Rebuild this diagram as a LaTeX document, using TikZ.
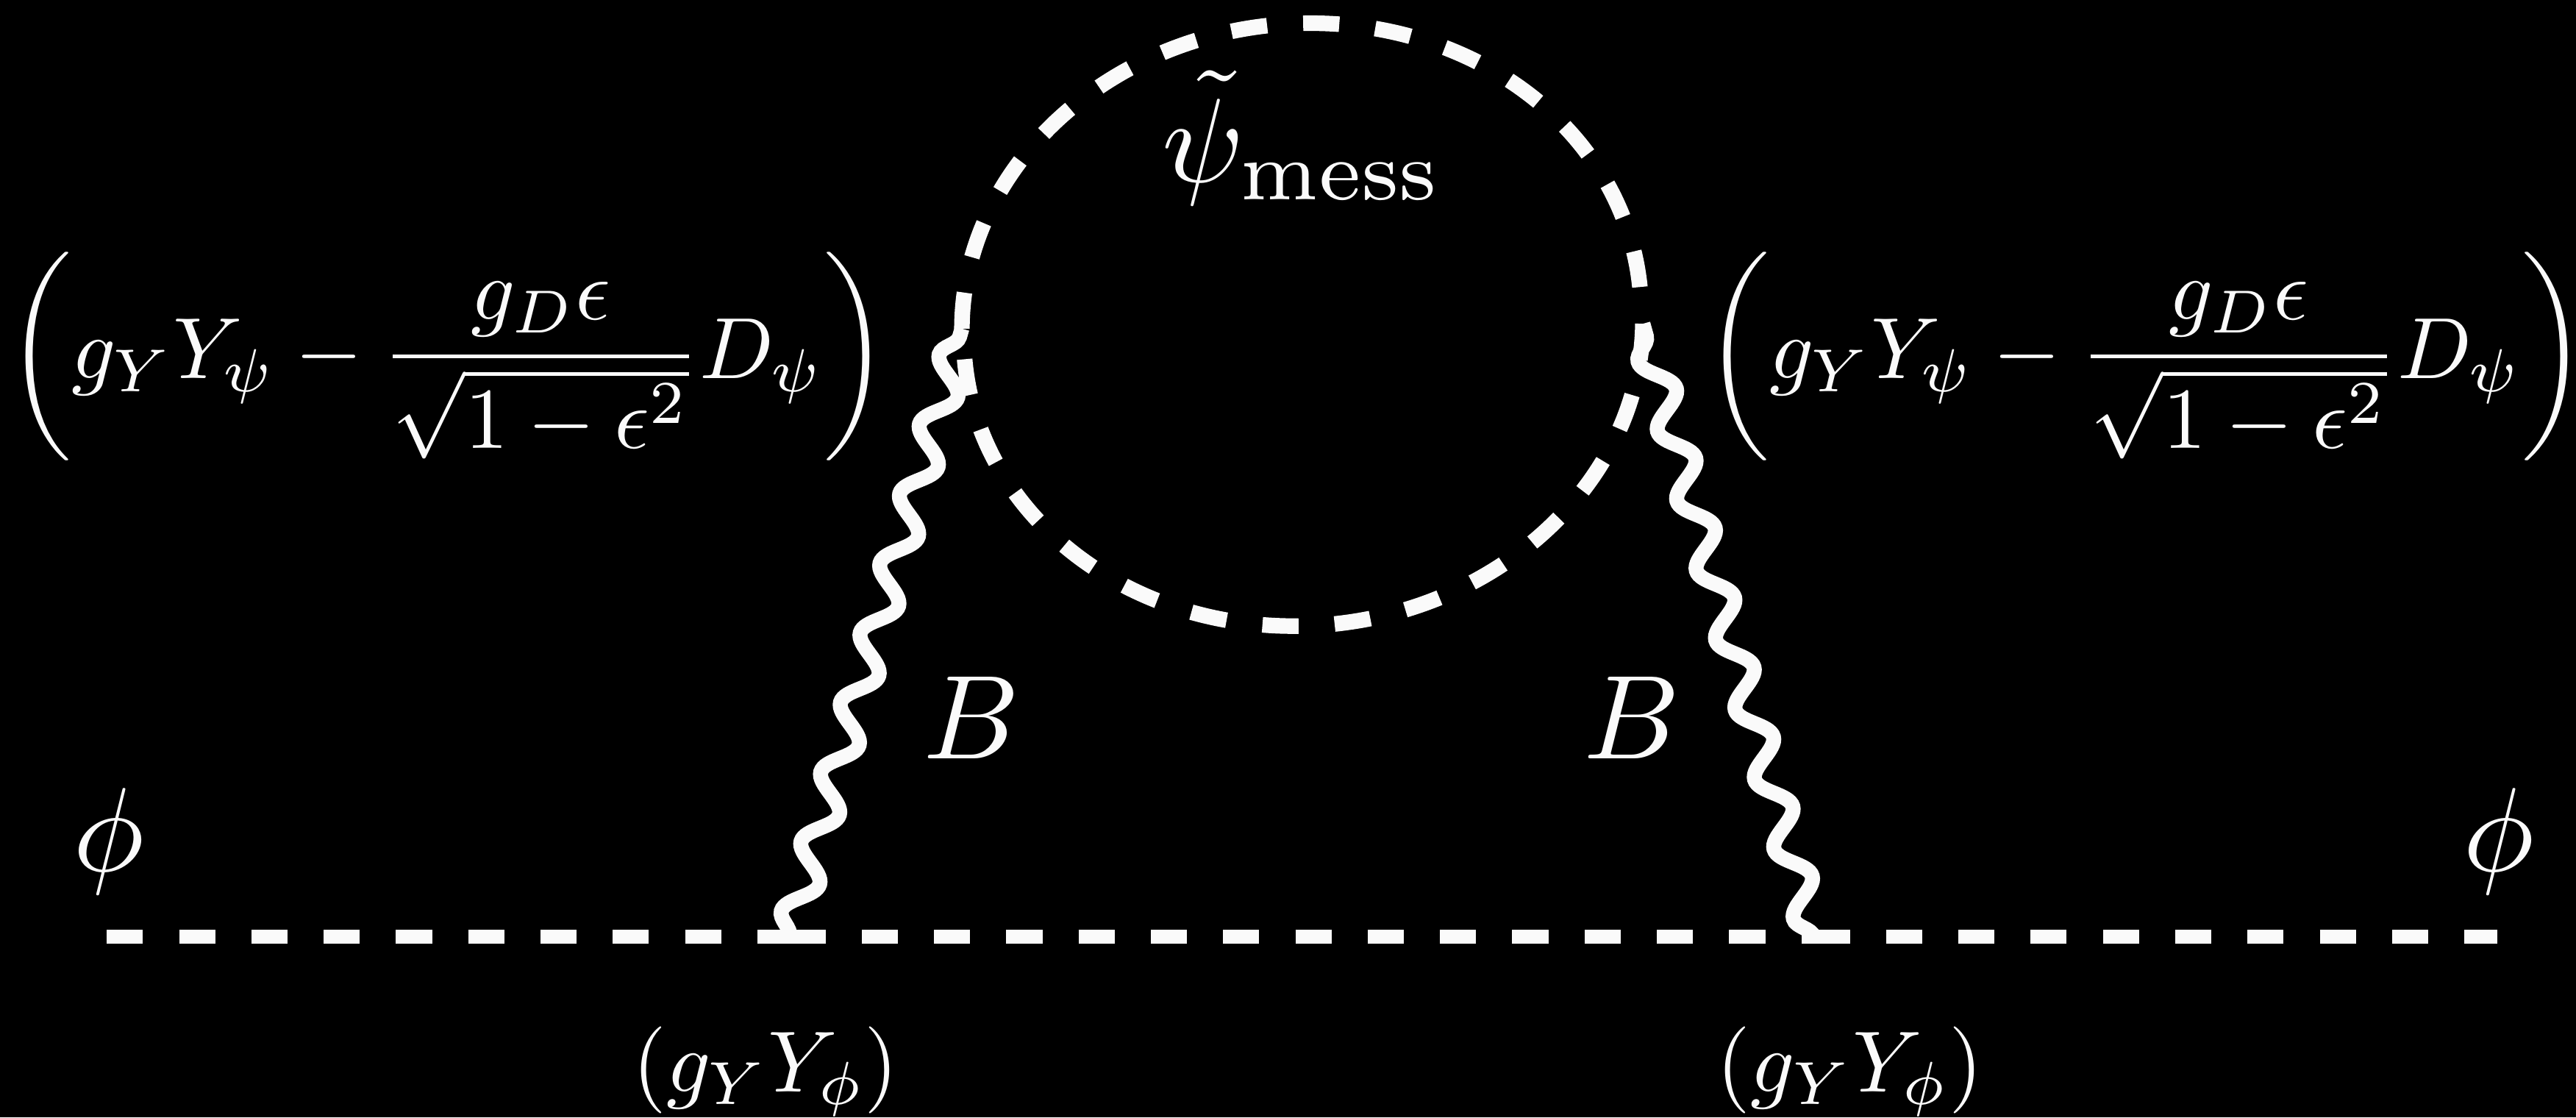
\documentclass[tikz,border=0pt]{standalone}
\usepackage{amsmath,amssymb}
\usepackage{xcolor}
\usepackage{tikz}
\usetikzlibrary{decorations.pathmorphing}
\definecolor{inkc}{HTML}{FAFAFA}
\newcommand{\yukawa}{\left(g_Y Y_\psi-\dfrac{g_D\epsilon}{\sqrt{1-\epsilon^2}}D_\psi\right)}
\newcommand{\vertexphi}{\left(g_Y Y_\phi\right)}
\tikzset{
  lab/.style={text=inkc,scale=2.07,inner sep=0pt},
  smalllab/.style={text=inkc,scale=1.505,inner sep=0pt},
  scalar/.style={inkc,line width=2.45pt,dash pattern=on 0.22cm off 0.22cm},
  loopline/.style={inkc,line width=2.7pt,dash pattern=on 0.22cm off 0.22cm,rotate=6},
  gauge/.style={inkc,line width=2.6pt,decorate,decoration={snake,segment length=0.44cm,amplitude=0.09cm}}
}
\begin{document}
\begin{tikzpicture}
  \fill[black] (0,0) rectangle (15.68,6.80);
  \useasboundingbox (0,0) rectangle (15.68,6.80);
  \coordinate (phiL) at (0.65,1.10);
  \coordinate (vtxL) at (4.805,1.10);
  \coordinate (vtxR) at (11.04,1.10);
  \coordinate (phiR) at (15.20,1.10);
  \coordinate (loopL) at (5.855,4.80);
  \coordinate (loopR) at (10.00,4.83);
  % scalar line
  \draw[scalar] (phiL) -- (vtxL);
  \draw[scalar] (vtxL) -- (vtxR);
  \draw[scalar] (vtxR) -- (phiR);
  % messenger loop
  \draw[loopline] (loopL) arc[start angle=174.6,end angle=-6,x radius=2.07,y radius=1.81];
  \draw[loopline] (loopR) arc[start angle=-6,end angle=-185.4,x radius=2.07,y radius=1.81];
  % gauge bosons
  \draw[gauge] (vtxL) -- (loopL);
  \draw[gauge] (vtxR) -- (loopR);
  \node[smalllab] (yukL) at (2.725,4.63) {$\yukawa$};
  \node[smalllab] (yukR) at (13.06,4.63) {$\yukawa$};
  \node[lab] (mess) at (7.93,5.96) {$\tilde{\psi}_{\mathrm{mess}}$};
  \foreach \n/\x in {bosL/5.915,bosR/9.935}
    \node[lab] (\n) at (\x,2.43) {$B$};
  \foreach \n/\x in {extL/0.66,extR/15.21}
    \node[lab] (\n) at (\x,1.68) {$\phi$};
  \foreach \n/\x in {coupL/4.66,coupR/11.26}
    \node[smalllab] (\n) at (\x,0.28) {$\vertexphi$};
\end{tikzpicture}
\end{document}
